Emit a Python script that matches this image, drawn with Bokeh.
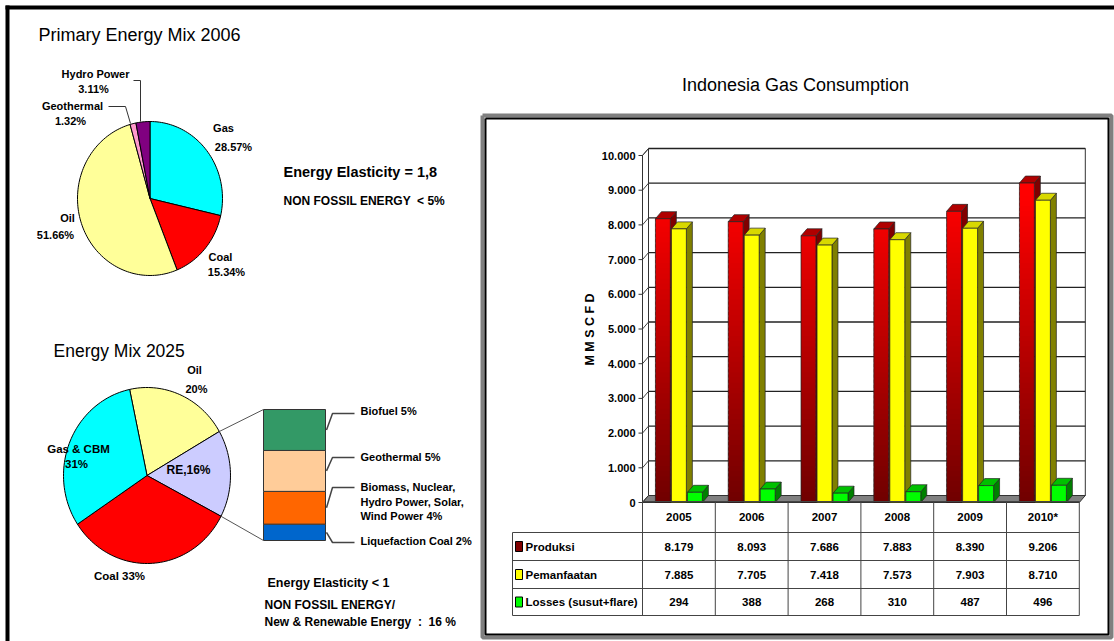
import numpy as np
from bokeh.plotting import figure
from bokeh.models import Range1d
from bokeh.core.properties import value
from bokeh.embed import file_html
from bokeh.resources import INLINE

W, H = 1114, 641
SANS = "Liberation Sans"
NB = "\u00a0"

# ---------------- data ----------------
mix2006_labels = ["Gas", "Coal", "Oil", "Geothermal", "Hydro Power"]
mix2006_pct = [28.57, 15.34, 51.66, 1.32, 3.11]
mix2006_colors = ["#00ffff", "#ff0000", "#ffff99", "#ff99cc", "#800080"]

mix2025_labels = ["Oil", "RE", "Coal", "Gas & CBM"]
mix2025_pct = [20, 16, 33, 31]
mix2025_colors = ["#ffff99", "#ccccff", "#ff0000", "#00ffff"]

re_labels = ["Liquefaction Coal", "Biomass, Nuclear, Hydro Power, Solar, Wind Power",
             "Geothermal", "Biofuel"]
re_pct = [2, 4, 5, 5]
re_colors = ["#0066cc", "#ff6600", "#ffcc99", "#339966"]

years = ["2005", "2006", "2007", "2008", "2009", "2010*"]
produksi = [8179, 8093, 7686, 7883, 8390, 9206]
pemanfaatan = [7885, 7705, 7418, 7573, 7903, 8710]
losses = [294, 388, 268, 310, 487, 496]
series_names = ["Produksi", "Pemanfaatan", "Losses (susut+flare)"]
gas_ticks = list(range(0, 10001, 1000))

# ---------------- figure ----------------
p = figure(width=W, height=H, x_range=Range1d(0, W), y_range=Range1d(0, H),
           output_backend="svg", toolbar_location=None,
           x_axis_location=None, y_axis_location=None,
           min_border=0, min_border_left=0, min_border_right=0,
           min_border_top=0, min_border_bottom=0)
p.grid.visible = False
p.outline_line_color = None
p.background_fill_color = "white"
p.border_fill_color = "white"


def Y(v):
    return H - v


def txt(x, y, s, size, bold=False, align="left", angle=0):
    p.text(x=[x], y=[Y(y)], text=[s], text_font=value(SANS),
           text_font_size=f"{size}px",
           text_font_style="bold" if bold else "normal",
           text_align=align, text_baseline="middle", text_color="black",
           angle=angle)


def line(xs, ys, color="black", width=1.0):
    p.line(x=xs, y=[Y(v) for v in ys], line_color=color, line_width=width)


def pie(cx, cy, rx, ry, pcts, colors, start_deg):
    xs, ys, bounds = [], [], []
    a = start_deg
    for pct in pcts:
        a0, a1 = a, a + pct * 3.6
        nseg = max(4, int(pct * 2))
        ts = np.radians(np.linspace(a0, a1, nseg))
        px = [cx] + list(cx + rx * np.sin(ts))
        py = [cy] + list(cy - ry * np.cos(ts))
        xs.append(px)
        ys.append([Y(v) for v in py])
        bounds.append((a0, a1))
        a = a1
    p.patches(xs, ys, fill_color=colors, line_color="black", line_width=1)
    return bounds


def on_ellipse(cx, cy, rx, ry, deg):
    t = np.radians(deg)
    return cx + rx * np.sin(t), cy - ry * np.cos(t)


# ---------------- page border ----------------
line([7, 7], [5, H], "black", 4)
line([5, W], [7, 7], "black", 4)

# ---------------- Primary Energy Mix 2006 ----------------
txt(38, 34, "Primary Energy Mix 2006", 18)
pie(149.5, 198, 72.5, 77, mix2006_pct, mix2006_colors, 0)
txt(95, 73, "Hydro Power", 11, True, "center")
txt(93, 88, f"{mix2006_pct[4]:.2f}%", 11, True, "center")
line([133, 140, 140], [80, 80, 121], "#333", 1)
txt(72, 105, "Geothermal", 11, True, "center")
txt(70, 120, f"{mix2006_pct[3]:.2f}%", 11, True, "center")
line([108, 125, 130], [106, 106, 123], "#333", 1)
txt(223, 127, "Gas", 11, True, "center")
txt(233, 146, f"{mix2006_pct[0]:.2f}%", 11, True, "center")
txt(67, 217, "Oil", 11, True, "center")
txt(55, 234, f"{mix2006_pct[2]:.2f}%", 11, True, "center")
txt(220, 256, "Coal", 11, True, "center")
txt(226, 271, f"{mix2006_pct[1]:.2f}%", 11, True, "center")
txt(283, 171, "Energy Elasticity = 1,8", 14.5, True)
txt(283, 200, f"NON FOSSIL ENERGY {NB}<{NB}5%", 12, True)

# ---------------- Energy Mix 2025 ----------------
txt(53, 350, "Energy Mix 2025", 17.5)
PC2 = (146.5, 475, 83.5, 88)
b2 = pie(*PC2, mix2025_pct, mix2025_colors, -12)
txt(194, 369, "Oil", 11, True, "center")
txt(196, 388, f"{mix2025_pct[0]}%", 11, True, "center")
txt(78, 448, "Gas & CBM", 11.5, True, "center")
txt(76, 463, f"{mix2025_pct[3]}%", 11.5, True, "center")
txt(188, 469, f"RE,{mix2025_pct[1]}%", 12, True, "center")
txt(119, 575, f"Coal {mix2025_pct[2]}%", 11.5, True, "center")

# RE breakdown stacked bar
ST_L, ST_R, ST_BOT, ST_TOP = 263, 325, 540, 409
re_total = sum(re_pct)
RK = (ST_BOT - ST_TOP) / re_total
p.extra_y_ranges = {"re": Range1d((ST_BOT - H) / RK, ST_BOT / RK)}
cum = np.concatenate([[0], np.cumsum(re_pct)])
p.quad(left=ST_L, right=ST_R, bottom=list(cum[:-1]), top=list(cum[1:]),
       fill_color=re_colors, line_color="#333", line_width=1, y_range_name="re")

# connectors from RE slice to stack
ra0, ra1 = b2[1]
x0, y0 = on_ellipse(*PC2, ra0)
x1, y1 = on_ellipse(*PC2, ra1)
line([x0, ST_L], [y0, ST_TOP], "#555", 1)
line([x1, ST_L], [y1, ST_BOT], "#555", 1)

label_y = [542, 487, 457, 413]
for k in range(len(re_pct)):
    mid = ST_BOT - (cum[k] + cum[k + 1]) / 2 * RK
    line([ST_R + 1, ST_R + 7, 354], [mid, label_y[k], label_y[k]], "#444", 1.5)
txt(360, 410, f"{re_labels[3]} {re_pct[3]}%", 11, True)
txt(360, 456, f"{re_labels[2]} {re_pct[2]}%", 11, True)
txt(360, 486, "Biomass, Nuclear,", 11, True)
txt(360, 501, "Hydro Power, Solar,", 11, True)
txt(360, 515, f"Wind Power {re_pct[1]}%", 11, True)
txt(360, 540, f"{re_labels[0]} {re_pct[0]}%", 11, True)

txt(267, 582, "Energy Elasticity < 1", 12.5, True)
txt(264, 604, "NON FOSSIL ENERGY/", 12, True)
txt(264, 621, f"New & Renewable Energy {NB}:{NB} {sum(re_pct)} %", 12, True)

# ---------------- Indonesia Gas Consumption ----------------
txt(795, 84, "Indonesia Gas Consumption", 18, False, "center")
# frame
line([482, 1111, 1111, 482, 482], [115, 115, 637, 637, 115], "#7f7f7f", 4)
line([485, 1108, 1108, 485, 485], [118, 118, 634, 634, 118], "black", 2)

GX0, GCOL = 642.0, 72.8
GY0, GK = 502.0, 0.0347
n = len(years)
DX = 6.0 / GCOL
DY = 7.0 / GK
p.extra_x_ranges = {"gx": Range1d(-GX0 / GCOL, (W - GX0) / GCOL)}
p.extra_y_ranges["gy"] = Range1d((GY0 - H) / GK, GY0 / GK)
G = dict(x_range_name="gx", y_range_name="gy")
TOP = gas_ticks[-1]

# walls and floor
p.quad(left=[DX], right=[n + DX], bottom=[DY], top=[TOP + DY],
       fill_color="white", line_color="#333", line_width=1, **G)
p.patch([0, DX, DX, 0], [0, DY, TOP + DY, TOP], fill_color="white",
        line_color="#333", line_width=1, **G)
p.multi_line([[DX, n + DX] for t in gas_ticks[1:]],
             [[t + DY, t + DY] for t in gas_ticks[1:]],
             line_color="#222", line_width=1.3, **G)
p.multi_line([[0, DX] for t in gas_ticks], [[t, t + DY] for t in gas_ticks],
             line_color="#444", line_width=1, **G)
p.patch([0, n, n + DX, DX], [0, 0, DY, DY], fill_color="#808080",
        line_color="#333", line_width=1, **G)
p.multi_line([[0, 0]] + [[-4 / GCOL, 0] for t in gas_ticks],
             [[0, TOP]] + [[t, t] for t in gas_ticks],
             line_color="#333", line_width=1, **G)
p.text(x=[-7 / GCOL] * len(gas_ticks), y=gas_ticks,
       text=[f"{t:,}".replace(",", ".") for t in gas_ticks],
       text_font=value(SANS), text_font_size="11px", text_font_style="bold",
       text_align="right", text_baseline="middle", text_color="black", **G)
txt(589, 329, "M M S C F D", 12.5, True, "center", angle=np.pi / 2)

# 3D bars
BW, OFF = 0.205, 0.22
styles = [
    (None, "#800000", "#b00000"),
    ("#ffff00", "#808000", "#d8d800"),
    ("#00ff00", "#008000", "#00c000"),
]
for s, vals in enumerate([produksi, pemanfaatan, losses]):
    front, side, topc = styles[s]
    cen = [i + 0.5 + (s - 1) * OFF for i in range(n)]
    xa = [c - BW / 2 for c in cen]
    xb = [c + BW / 2 for c in cen]
    p.patches([[b, b + DX, b + DX, b] for b in xb],
              [[0, DY, v + DY, v] for v in vals],
              fill_color=side, line_color="#222", line_width=0.7, **G)
    p.patches([[a, b, b + DX, a + DX] for a, b in zip(xa, xb)],
              [[v, v, v + DY, v + DY] for v in vals],
              fill_color=topc, line_color="#222", line_width=0.7, **G)
    if front is None:
        step = 150
        L, R, B, T, C = [], [], [], [], []
        for a, b, v in zip(xa, xb, vals):
            lo = 0
            while lo < v:
                hi = min(lo + step, v)
                f = min(1.0, (lo + hi) / 2 / 8800)
                r = int(0x70 + (0xff - 0x70) * f)
                L.append(a); R.append(b); B.append(lo)
                T.append(min(hi + step * 0.6, v))
                C.append(f"#{r:02x}0000")
                lo = hi
        p.quad(left=L, right=R, bottom=B, top=T, fill_color=C,
               line_color=None, **G)
        p.quad(left=xa, right=xb, bottom=0, top=vals, fill_color=None,
               line_color="#222", line_width=0.7, **G)
    else:
        p.quad(left=xa, right=xb, bottom=0, top=vals, fill_color=front,
               line_color="#222", line_width=0.7, **G)

# data table
T_LEFT = 512
row_edges = [501, 532, 560, 588, 615]
cols = [GX0 + k * GCOL for k in range(n + 1)]
for k, yy in enumerate(row_edges):
    line([GX0 if k == 0 else T_LEFT, cols[-1]], [yy, yy], "#444", 1)
line([T_LEFT, T_LEFT], [row_edges[1], row_edges[-1]], "#444", 1)
for cx in cols:
    line([cx, cx], [row_edges[0], row_edges[-1]], "#444", 1)
centers = [(cols[k] + cols[k + 1]) / 2 for k in range(n)]
hy = (row_edges[0] + row_edges[1]) / 2
p.text(x=centers, y=[Y(hy)] * n, text=years, text_font=value(SANS),
       text_font_size="11.5px", text_font_style="bold", text_align="center",
       text_baseline="middle", text_color="black")
swatch = ["#800000", "#ffff00", "#00ff00"]
for r, vals in enumerate([produksi, pemanfaatan, losses]):
    ry = (row_edges[r + 1] + row_edges[r + 2]) / 2
    p.quad(left=[515], right=[522], bottom=[Y(ry + 5)], top=[Y(ry - 5)],
           fill_color=swatch[r], line_color="black", line_width=1)
    txt(525, ry, series_names[r], 11.5, True, "left")
    labels = [f"{v:,}".replace(",", ".") for v in vals]
    p.text(x=centers, y=[Y(ry)] * n, text=labels, text_font=value(SANS),
           text_font_size="11.5px", text_font_style="bold", text_align="center",
           text_baseline="middle", text_color="black")

open("out.html", "w").write(file_html(p, INLINE))
